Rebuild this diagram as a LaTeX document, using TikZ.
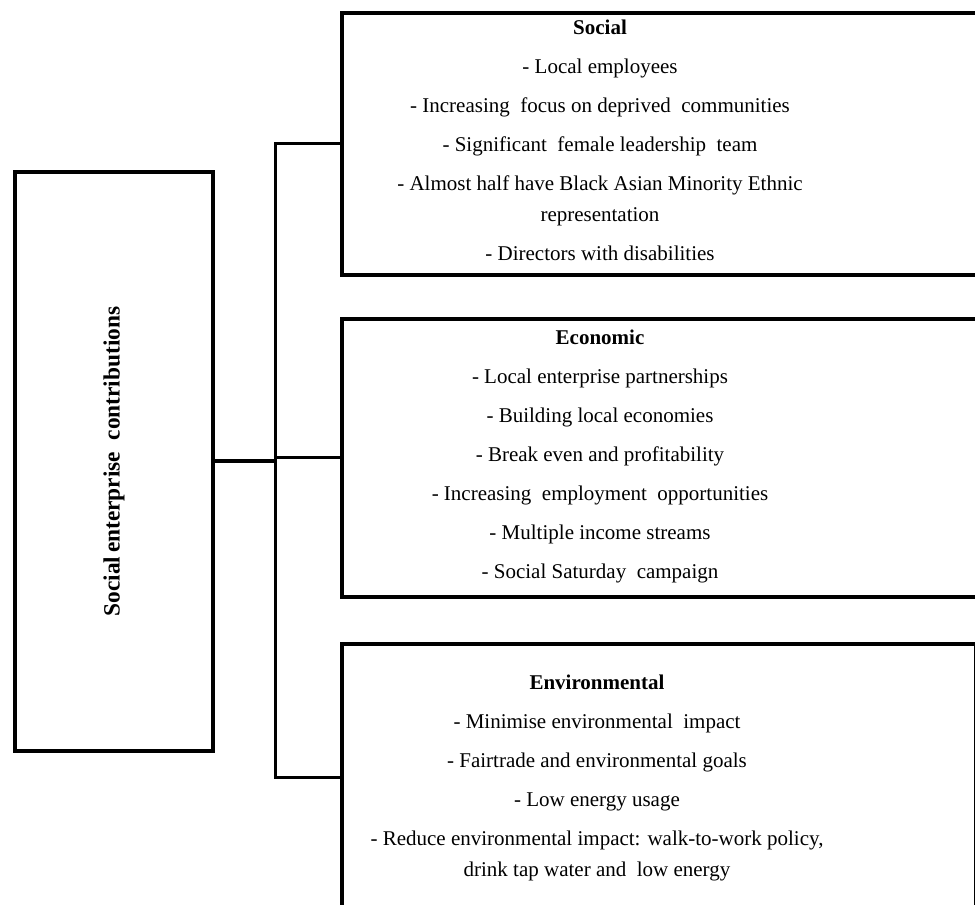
\documentclass[tikz,border=0pt]{standalone}
\usepackage{fontspec}
\setmainfont{Liberation Serif}
\usetikzlibrary{positioning}
\newcommand{\px}{0.75pt}
\begin{document}
\begin{tikzpicture}[x=0.75pt,y=-0.75pt]
        		\tikzstyle{box}=[rectangle,draw=black,line width=4*\px,inner sep=0pt,anchor=north west]
        		\tikzstyle{txt}=[align=center,inner sep=0pt,anchor=north,font=\fontsize{15.75}{23.25}\selectfont]
        		\tikzstyle{edge}=[draw,line width=3*\px]
        		\useasboundingbox (0,0) rectangle (975,905);
        		\clip (0,0) rectangle (975,905);
       			\begin{scope}
			        \node [box,minimum width=198*\px,minimum height=579*\px] (contrib) at (13,170) {};
			        \node [rotate=90,font=\fontsize{17.5}{20}\selectfont\bfseries] (contribtxt) at (contrib.center) {Social\,enterprise\ \ contributions};
			        \node [box,minimum width=650*\px,minimum height=262*\px] (social) at (340,11) {};
			        \node [box,minimum width=650*\px,minimum height=278*\px] (econ) at (340,317) {};
			        \node [box,minimum width=634*\px,minimum height=266*\px] (env) at (340,642) {};
			        \coordinate (bus) at (275,0);
			        \node [txt] (socialtxt) at (600,20) {\textbf{Social}\\[6pt]
			          - Local employees\\[6pt]
			          - Increasing\ \ focus on deprived\ \ communities\\[6pt]
			          - Significant\ \ female leadership\ \ team\\[6pt]
			          - Almost half have Black Asian Minority Ethnic\\
			          representation\\[6pt]
			          - Directors with disabilities};
			        \node [txt] (econtxt) at (600,330) {\textbf{Economic}\\[6pt]
			          - Local enterprise partnerships\\[6pt]
			          - Building local economies\\[6pt]
			          - Break even and profitability\\[6pt]
			          - Increasing\ \ employment\ \ opportunities\\[6pt]
			          - Multiple income streams\\[6pt]
			          - Social Saturday\ \ campaign};
			        \node [txt] (envtxt) at (597,675) {\textbf{Environmental}\\[6pt]
			          - Minimise environmental\ \ impact\\[6pt]
			          - Fairtrade and environmental goals\\[6pt]
			          - Low energy usage\\[6pt]
			          - Reduce environmental impact: walk-to-work policy,\\
			          drink tap water and\ \ low energy};
			        \path[edge,line width=4*\px] (contrib.east) -- (contrib.east -| bus);
			        \path[edge] (social.west) -- (social.west -| bus) |- (env.west);
			        \path[edge] (econ.west) -- (econ.west -| bus);
        		\end{scope}
      		\end{tikzpicture}
\end{document}
